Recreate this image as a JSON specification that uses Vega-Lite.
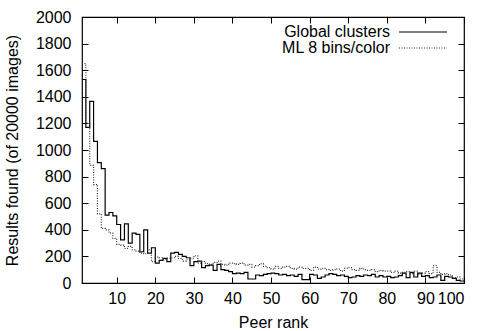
{
  "$schema": "https://vega.github.io/schema/vega-lite/v6.json",
  "width": 382,
  "height": 266,
  "autosize": "none",
  "padding": {"left": 82, "top": 17, "right": 14, "bottom": 48},
  "background": "white",
  "config": {
    "font": "Liberation Sans",
    "view": {"stroke": "black", "strokeWidth": 1.2},
    "axis": {
      "domain": false,
      "grid": false,
      "tickColor": "black",
      "tickSize": -6,
      "tickWidth": 1,
      "labelColor": "black",
      "labelFont": "Liberation Sans",
      "labelFontSize": 16,
      "titleColor": "black",
      "titleFont": "Liberation Sans",
      "titleFontSize": 16,
      "titleFontWeight": "normal"
    }
  },
  "data": {
    "values": [
      {"rank":1,"Global clusters":1530,"ML 8 bins/color":1650},
      {"rank":2,"Global clusters":1170,"ML 8 bins/color":1200},
      {"rank":3,"Global clusters":1365,"ML 8 bins/color":885},
      {"rank":4,"Global clusters":1065,"ML 8 bins/color":740},
      {"rank":5,"Global clusters":905,"ML 8 bins/color":520},
      {"rank":6,"Global clusters":860,"ML 8 bins/color":410},
      {"rank":7,"Global clusters":510,"ML 8 bins/color":400},
      {"rank":8,"Global clusters":530,"ML 8 bins/color":375},
      {"rank":9,"Global clusters":505,"ML 8 bins/color":335},
      {"rank":10,"Global clusters":440,"ML 8 bins/color":290},
      {"rank":11,"Global clusters":325,"ML 8 bins/color":285},
      {"rank":12,"Global clusters":445,"ML 8 bins/color":260},
      {"rank":13,"Global clusters":300,"ML 8 bins/color":275},
      {"rank":14,"Global clusters":375,"ML 8 bins/color":250},
      {"rank":15,"Global clusters":365,"ML 8 bins/color":240},
      {"rank":16,"Global clusters":235,"ML 8 bins/color":225},
      {"rank":17,"Global clusters":400,"ML 8 bins/color":220},
      {"rank":18,"Global clusters":225,"ML 8 bins/color":250},
      {"rank":19,"Global clusters":265,"ML 8 bins/color":160},
      {"rank":20,"Global clusters":150,"ML 8 bins/color":195},
      {"rank":21,"Global clusters":170,"ML 8 bins/color":190},
      {"rank":22,"Global clusters":185,"ML 8 bins/color":180},
      {"rank":23,"Global clusters":160,"ML 8 bins/color":185},
      {"rank":24,"Global clusters":225,"ML 8 bins/color":190},
      {"rank":25,"Global clusters":230,"ML 8 bins/color":200},
      {"rank":26,"Global clusters":215,"ML 8 bins/color":185},
      {"rank":27,"Global clusters":200,"ML 8 bins/color":165},
      {"rank":28,"Global clusters":190,"ML 8 bins/color":175},
      {"rank":29,"Global clusters":130,"ML 8 bins/color":185},
      {"rank":30,"Global clusters":160,"ML 8 bins/color":205},
      {"rank":31,"Global clusters":165,"ML 8 bins/color":150},
      {"rank":32,"Global clusters":115,"ML 8 bins/color":160},
      {"rank":33,"Global clusters":130,"ML 8 bins/color":145},
      {"rank":34,"Global clusters":135,"ML 8 bins/color":140},
      {"rank":35,"Global clusters":95,"ML 8 bins/color":155},
      {"rank":36,"Global clusters":140,"ML 8 bins/color":165},
      {"rank":37,"Global clusters":100,"ML 8 bins/color":140},
      {"rank":38,"Global clusters":95,"ML 8 bins/color":135},
      {"rank":39,"Global clusters":85,"ML 8 bins/color":150},
      {"rank":40,"Global clusters":70,"ML 8 bins/color":145},
      {"rank":41,"Global clusters":75,"ML 8 bins/color":140},
      {"rank":42,"Global clusters":70,"ML 8 bins/color":150},
      {"rank":43,"Global clusters":80,"ML 8 bins/color":135},
      {"rank":44,"Global clusters":30,"ML 8 bins/color":140},
      {"rank":45,"Global clusters":30,"ML 8 bins/color":120},
      {"rank":46,"Global clusters":60,"ML 8 bins/color":130},
      {"rank":47,"Global clusters":55,"ML 8 bins/color":145},
      {"rank":48,"Global clusters":65,"ML 8 bins/color":125},
      {"rank":49,"Global clusters":70,"ML 8 bins/color":115},
      {"rank":50,"Global clusters":75,"ML 8 bins/color":105},
      {"rank":51,"Global clusters":70,"ML 8 bins/color":125},
      {"rank":52,"Global clusters":60,"ML 8 bins/color":110},
      {"rank":53,"Global clusters":65,"ML 8 bins/color":120},
      {"rank":54,"Global clusters":55,"ML 8 bins/color":125},
      {"rank":55,"Global clusters":60,"ML 8 bins/color":110},
      {"rank":56,"Global clusters":50,"ML 8 bins/color":105},
      {"rank":57,"Global clusters":65,"ML 8 bins/color":120},
      {"rank":58,"Global clusters":25,"ML 8 bins/color":110},
      {"rank":59,"Global clusters":25,"ML 8 bins/color":110},
      {"rank":60,"Global clusters":65,"ML 8 bins/color":95},
      {"rank":61,"Global clusters":60,"ML 8 bins/color":120},
      {"rank":62,"Global clusters":35,"ML 8 bins/color":105},
      {"rank":63,"Global clusters":45,"ML 8 bins/color":110},
      {"rank":64,"Global clusters":60,"ML 8 bins/color":100},
      {"rank":65,"Global clusters":70,"ML 8 bins/color":95},
      {"rank":66,"Global clusters":65,"ML 8 bins/color":100},
      {"rank":67,"Global clusters":55,"ML 8 bins/color":105},
      {"rank":68,"Global clusters":60,"ML 8 bins/color":90},
      {"rank":69,"Global clusters":50,"ML 8 bins/color":110},
      {"rank":70,"Global clusters":40,"ML 8 bins/color":115},
      {"rank":71,"Global clusters":45,"ML 8 bins/color":100},
      {"rank":72,"Global clusters":55,"ML 8 bins/color":95},
      {"rank":73,"Global clusters":50,"ML 8 bins/color":110},
      {"rank":74,"Global clusters":60,"ML 8 bins/color":100},
      {"rank":75,"Global clusters":55,"ML 8 bins/color":95},
      {"rank":76,"Global clusters":65,"ML 8 bins/color":100},
      {"rank":77,"Global clusters":45,"ML 8 bins/color":85},
      {"rank":78,"Global clusters":55,"ML 8 bins/color":95},
      {"rank":79,"Global clusters":45,"ML 8 bins/color":90},
      {"rank":80,"Global clusters":50,"ML 8 bins/color":90},
      {"rank":81,"Global clusters":40,"ML 8 bins/color":80},
      {"rank":82,"Global clusters":45,"ML 8 bins/color":90},
      {"rank":83,"Global clusters":55,"ML 8 bins/color":75},
      {"rank":84,"Global clusters":75,"ML 8 bins/color":80},
      {"rank":85,"Global clusters":40,"ML 8 bins/color":85},
      {"rank":86,"Global clusters":80,"ML 8 bins/color":70},
      {"rank":87,"Global clusters":45,"ML 8 bins/color":90},
      {"rank":88,"Global clusters":75,"ML 8 bins/color":65},
      {"rank":89,"Global clusters":50,"ML 8 bins/color":75},
      {"rank":90,"Global clusters":55,"ML 8 bins/color":85},
      {"rank":91,"Global clusters":40,"ML 8 bins/color":70},
      {"rank":92,"Global clusters":45,"ML 8 bins/color":130},
      {"rank":93,"Global clusters":60,"ML 8 bins/color":80},
      {"rank":94,"Global clusters":20,"ML 8 bins/color":65},
      {"rank":95,"Global clusters":50,"ML 8 bins/color":70},
      {"rank":96,"Global clusters":45,"ML 8 bins/color":60},
      {"rank":97,"Global clusters":35,"ML 8 bins/color":40},
      {"rank":98,"Global clusters":20,"ML 8 bins/color":45},
      {"rank":99,"Global clusters":15,"ML 8 bins/color":30},
      {"rank":100,"Global clusters":15,"ML 8 bins/color":30}
    ]
  },
  "transform": [
    {"fold": ["Global clusters", "ML 8 bins/color"], "as": ["series", "value"]}
  ],
  "layer": [
    {
      "mark": {"type": "line", "interpolate": "step-after", "strokeWidth": 1.2, "clip": true},
      "encoding": {
        "x": {
          "field": "rank", "type": "quantitative",
          "scale": {"domain": [1, 100], "nice": false, "zero": false},
          "axis": {"title": "Peer rank", "values": [10,20,30,40,50,60,70,80,90,100], "format": "d", "labelPadding": 13, "titlePadding": 8, "orient": "bottom"}
        },
        "y": {
          "field": "value", "type": "quantitative",
          "scale": {"domain": [0, 2000], "nice": false},
          "axis": {"title": "Results found (of 20000 images)", "values": [0,200,400,600,800,1000,1200,1400,1600,1800,2000], "format": "d", "labelPadding": 17, "titlePadding": 15, "orient": "left"}
        },
        "color": {
          "field": "series", "type": "nominal",
          "scale": {"domain": ["Global clusters", "ML 8 bins/color"], "range": ["#000000", "#333333"]},
          "legend": {
            "title": null,
            "orient": "none",
            "legendX": 333,
            "legendY": 7,
            "symbolType": "M-4,0H4",
            "symbolSize": 144,
            "symbolStrokeWidth": 1.2,
            "labelAlign": "right",
            "labelOffset": -41,
            "labelFontSize": 16,
            "labelColor": "black",
            "rowPadding": -4
          }
        },
        "strokeDash": {
          "field": "series", "type": "nominal",
          "scale": {"domain": ["Global clusters", "ML 8 bins/color"], "range": [[1, 0], [1, 1.5]]},
          "legend": null
        }
      }
    },
    {
      "mark": {"type": "point", "opacity": 0},
      "encoding": {
        "x": {
          "field": "rank", "type": "quantitative",
          "axis": {"orient": "top", "labels": false, "title": null, "values": [10,20,30,40,50,60,70,80,90,100]}
        },
        "y": {
          "field": "value", "type": "quantitative",
          "axis": {"orient": "right", "labels": false, "title": null, "values": [0,200,400,600,800,1000,1200,1400,1600,1800,2000]}
        }
      }
    }
  ],
  "resolve": {"axis": {"x": "independent", "y": "independent"}}
}
